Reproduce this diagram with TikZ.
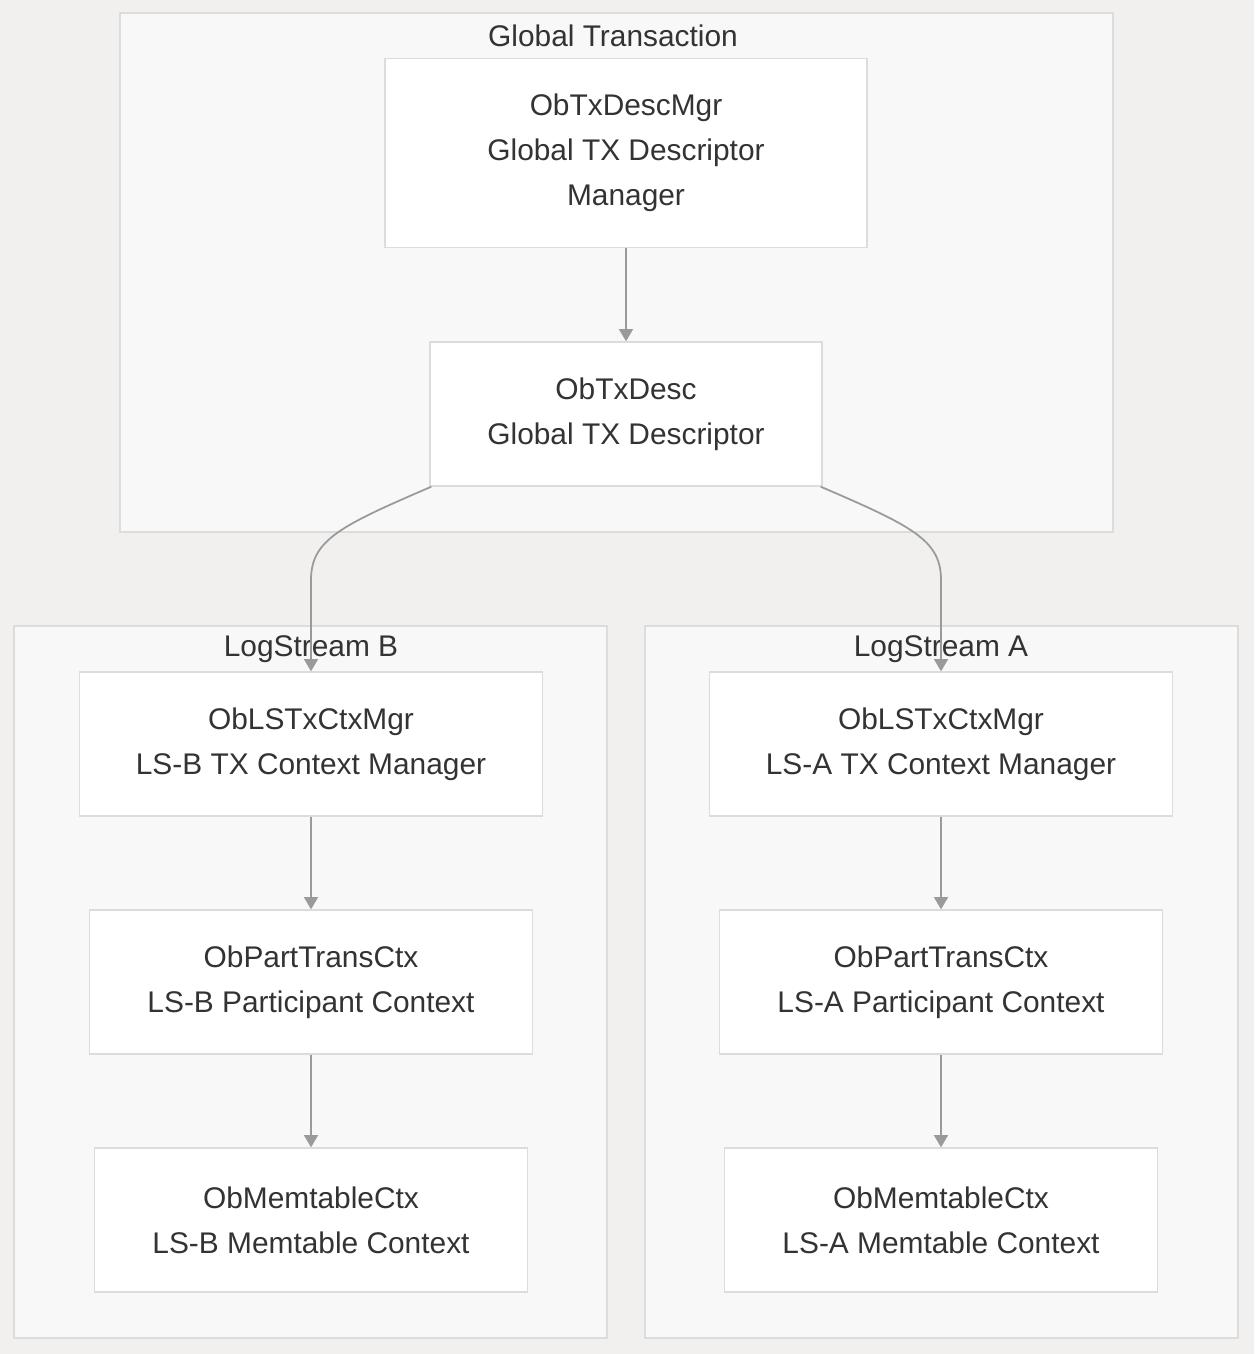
\documentclass[tikz,border=0pt]{standalone}
\usepackage{fontspec}
\setmainfont{Liberation Sans}
\usetikzlibrary{arrows.meta}
\definecolor{pagebg}{HTML}{F1F0EE}
\definecolor{groupbg}{HTML}{F8F8F8}
\definecolor{edge}{HTML}{DCDCDC}
\definecolor{ink}{HTML}{333333}
\definecolor{wire}{HTML}{9A9A9A}
\tikzset{
  group/.style={draw=edge, fill=groupbg, line width=0.8pt},
  grouptitle/.style={text=ink, font=\fontsize{17}{20}\selectfont},
  box/.style={draw=edge, fill=white, line width=0.8pt, text=ink, align=center,
    font=\fontsize{17}{25.5}\selectfont, inner sep=0pt},
  flow/.style={draw=wire, line width=1pt, -{Triangle[length=7pt,width=8pt]}}
}
\begin{document}
\begin{tikzpicture}[x=0.02cm, y=-0.02cm]
  \useasboundingbox[fill=pagebg] (0,0) rectangle (1254,1354);

  % subgraphs
  \draw[group] (120,13)  rectangle (1113,532);
  \draw[group] (14,626)  rectangle (607,1338);
  \draw[group] (645,626) rectangle (1238,1338);
  \node[grouptitle] (tglobal) at (613,36)  {Global Transaction};
  \node[grouptitle] (tlsb)    at (311,649) {LogStream B};
  \node[grouptitle] (tlsa)    at (941,649) {LogStream A};

  % global transaction
  \node[box, minimum width=9.64cm, minimum height=3.78cm] (descmgr) at (626,153)
    {ObTxDescMgr\\Global TX Descriptor\\Manager};
  \node[box, minimum width=7.84cm, minimum height=2.88cm] (desc) at (626,414)
    {ObTxDesc\\Global TX Descriptor};

  % logstream B
  \node[box, minimum width=9.26cm, minimum height=2.88cm] (lsbmgr) at (311,744)
    {ObLSTxCtxMgr\\LS-B TX Context Manager};
  \node[box, minimum width=8.86cm, minimum height=2.88cm] (lsbpart) at (311,982)
    {ObPartTransCtx\\LS-B Participant Context};
  \node[box, minimum width=8.66cm, minimum height=2.88cm] (lsbmem) at (311,1220)
    {ObMemtableCtx\\LS-B Memtable Context};

  % logstream A
  \node[box, minimum width=9.26cm, minimum height=2.88cm] (lsamgr) at (941,744)
    {ObLSTxCtxMgr\\LS-A TX Context Manager};
  \node[box, minimum width=8.86cm, minimum height=2.88cm] (lsapart) at (941,982)
    {ObPartTransCtx\\LS-A Participant Context};
  \node[box, minimum width=8.66cm, minimum height=2.88cm] (lsamem) at (941,1220)
    {ObMemtableCtx\\LS-A Memtable Context};

  % edges
  \draw[flow] (descmgr) -- (desc);
  \draw[flow] ([xshift=0.04cm]desc.south west) .. controls (340,526) and (311,540) .. (311,580) -- (lsbmgr.north);
  \draw[flow] ([xshift=-0.04cm]desc.south east) .. controls (912,526) and (941,540) .. (941,580) -- (lsamgr.north);
  \draw[flow] (lsbmgr) -- (lsbpart);
  \draw[flow] (lsbpart) -- (lsbmem);
  \draw[flow] (lsamgr) -- (lsapart);
  \draw[flow] (lsapart) -- (lsamem);
\end{tikzpicture}
\end{document}
